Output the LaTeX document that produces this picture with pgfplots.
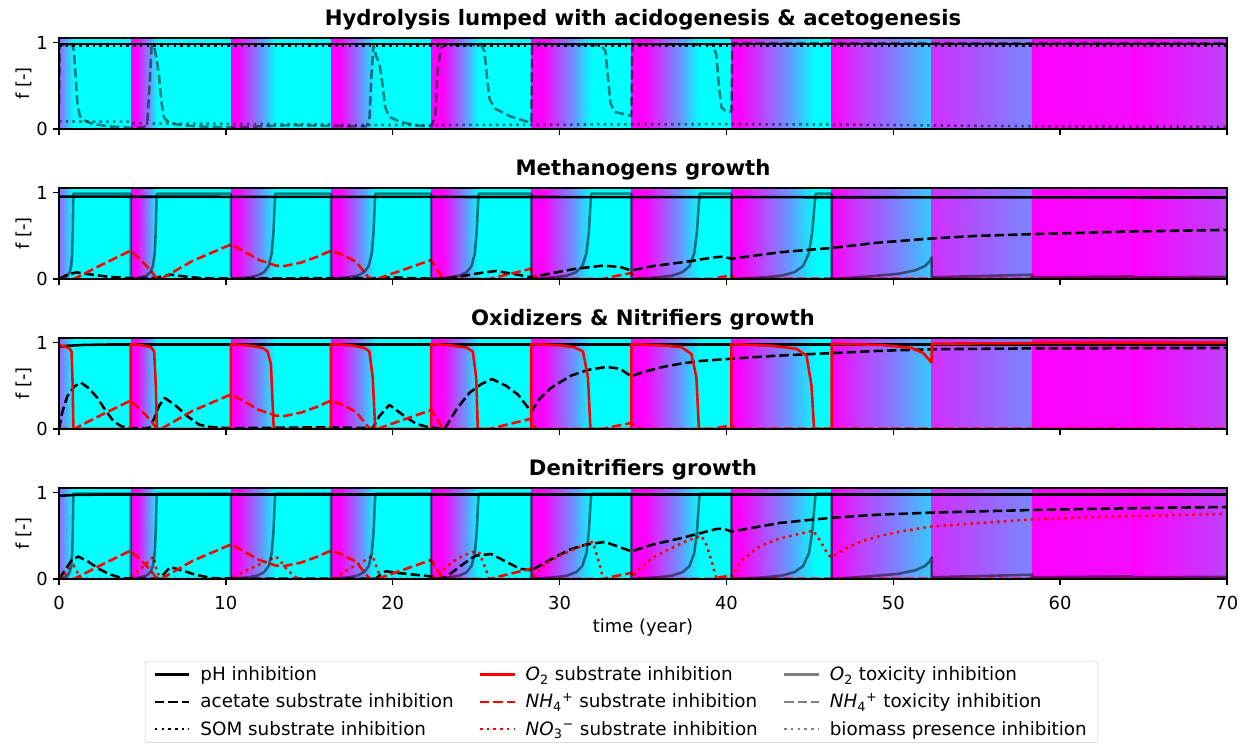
\documentclass[border=0pt]{standalone}
\usepackage{fontspec}
\setmainfont{DejaVu Sans}
\usepackage{pgfplots}
\pgfplotsset{compat=1.18}
\usepackage{pgfplotstable}
\definecolor{mg}{rgb}{1,0,1}
\definecolor{cy}{rgb}{0,1,1}

\tikzset{
 ph/.style={black, line width=1.85pt, line join=round},
 acet/.style={black, line width=1.85pt, dash pattern=on 6.8pt off 2.9pt, line join=round},
 som/.style={black, line width=1.85pt, dash pattern=on 1.85pt off 3.0pt},
 osub/.style={red, line width=1.85pt, line join=round},
 nsub/.style={red, line width=1.85pt, dash pattern=on 6.8pt off 2.9pt, line join=round},
 nosub/.style={red, line width=1.85pt, dash pattern=on 1.85pt off 3.0pt},
 otox/.style={black, draw opacity=0.5, line width=1.85pt, line join=round},
 ntox/.style={black, draw opacity=0.5, line width=1.85pt, dash pattern=on 6.8pt off 2.9pt, line join=round},
 bio/.style={black, draw opacity=0.5, line width=1.85pt, dash pattern=on 1.85pt off 3.0pt},
}

\newcommand\shb[4]{\fill[left color=mg!#3!cy, right color=mg!#4!cy, draw=none] (axis cs:#1,0) rectangle (axis cs:#2,1.055);}
\newcommand\sol[3]{\fill[mg!#3!cy] (axis cs:#1,0) rectangle (axis cs:#2,1.055);}
\newcommand\bgbands{%
\fill[cy] (axis cs:0,0) rectangle (axis cs:70,1.055);
\shb{0}{0.5}{60}{25}\shb{0.5}{0.86}{25}{0}%
\sol{4.3}{4.65}{100}\shb{4.65}{5.44}{100}{40}\shb{5.44}{5.86}{40}{0}%
\sol{10.3}{10.65}{100}\shb{10.65}{12.15}{100}{40}\shb{12.15}{12.96}{40}{0}%
\sol{16.3}{16.8}{100}\shb{16.8}{18.2}{100}{40}\shb{18.2}{18.96}{40}{0}%
\sol{22.3}{23.0}{100}\shb{23.0}{24.4}{100}{40}\shb{24.4}{25.15}{40}{0}%
\sol{28.3}{29.0}{100}\shb{29.0}{30.89}{100}{40}\shb{30.89}{31.9}{40}{0}%
\sol{34.3}{35.1}{100}\shb{35.1}{37.25}{100}{40}\shb{37.25}{38.4}{40}{0}%
\sol{40.3}{40.8}{100}\shb{40.8}{43.76}{100}{40}\shb{43.76}{45.35}{40}{0}%
\shb{46.3}{48.0}{100}{75}\shb{48.0}{50.4}{75}{47}\shb{50.4}{52.3}{47}{20}%
\shb{52.3}{58.3}{82}{47}%
\shb{58.3}{64.3}{100}{95}%
\shb{64.3}{70}{100}{74}%
}

% O2 toxicity (panels 2 and 4)
\pgfplotstableread[row sep=\\]{
x y\\
0 0\\ 0.344 0.02\\ 0.516 0.04\\ 0.645 0.08\\ 0.731 0.15\\ 0.791 0.3\\ 0.826 0.55\\ 0.847 0.85\\ 0.86 0.99\\ 4.3 0.99\\
4.3 0\\ 4.924 0.02\\ 5.236 0.04\\ 5.47 0.08\\ 5.626 0.15\\ 5.735 0.3\\ 5.798 0.55\\ 5.837 0.85\\ 5.86 0.99\\ 10.3 0.99\\
10.3 0\\ 11.364 0.02\\ 11.896 0.04\\ 12.295 0.08\\ 12.561 0.15\\ 12.747 0.3\\ 12.854 0.55\\ 12.92 0.85\\ 12.96 0.99\\ 16.3 0.99\\
16.3 0\\ 17.364 0.02\\ 17.896 0.04\\ 18.295 0.08\\ 18.561 0.15\\ 18.747 0.3\\ 18.854 0.55\\ 18.92 0.85\\ 18.96 0.99\\ 22.3 0.99\\
22.3 0\\ 23.44 0.02\\ 24.01 0.04\\ 24.4375 0.08\\ 24.7225 0.15\\ 24.922 0.3\\ 25.036 0.55\\ 25.107 0.85\\ 25.15 0.99\\ 28.3 0.99\\
28.3 0\\ 29.74 0.02\\ 30.46 0.04\\ 31.0 0.08\\ 31.36 0.15\\ 31.612 0.3\\ 31.756 0.55\\ 31.846 0.85\\ 31.9 0.99\\ 34.3 0.99\\
34.3 0\\ 35.94 0.02\\ 36.76 0.04\\ 37.375 0.08\\ 37.785 0.15\\ 38.072 0.3\\ 38.236 0.55\\ 38.3385 0.85\\ 38.4 0.99\\ 40.3 0.99\\
40.3 0\\ 42.32 0.02\\ 43.33 0.04\\ 44.0875 0.08\\ 44.5925 0.15\\ 44.946 0.3\\ 45.148 0.55\\ 45.274 0.85\\ 45.35 0.99\\ 46.3 0.99\\
46.3 0\\ 48.5 0.03\\ 50.3 0.06\\ 51.3 0.1\\ 51.9 0.15\\ 52.2 0.21\\ 52.3 0.25\\ 52.3 0.02\\ 58.3 0.05\\ 58.3 0.02\\ 64.3 0.03\\ 64.3 0.02\\ 70 0.025\\
}\Gtab

% NH4+ substrate (panels 2,3,4)
\pgfplotstableread[row sep=\\]{
x y\\
0 0\\ 0.9 0\\ 1.0 0.01\\ 2.5 0.16\\ 4.3 0.33\\ 4.5 0.29\\ 5.0 0.2\\ 5.5 0.1\\ 5.8 0.02\\ 6.1 0\\ 6.2 0.01\\ 8 0.21\\ 10.3 0.4\\
11 0.33\\ 12 0.22\\ 13 0.155\\ 13.5 0.15\\ 14.5 0.19\\ 15.5 0.26\\ 16.3 0.33\\ 17 0.28\\ 17.8 0.2\\ 18.5 0.03\\ 18.7 0\\ 19.1 0\\
19.2 0.01\\ 22.3 0.22\\ 22.7 0.1\\ 23.0 0\\ 25.8 0\\ 26 0.01\\ 28.3 0.12\\ 28.5 0.02\\ 28.7 0\\ 32.6 0\\ 33 0.02\\ 34.3 0.07\\
34.6 0.02\\ 35 0\\ 39.3 0\\ 39.6 0.02\\ 40.3 0.04\\ 40.5 0.005\\ 70 0.005\\
}\Ntab

% Panel 1
\pgfplotstableread[row sep=\\]{
x y\\
0 0.3\\ 0.05 0.97\\ 0.8 0.98\\ 0.9 0.9\\ 1.0 0.6\\ 1.1 0.3\\ 1.25 0.15\\ 1.5 0.1\\ 2 0.06\\ 3 0.03\\ 4.3 0.015\\
5.1 0.02\\ 5.3 0.1\\ 5.45 0.6\\ 5.55 0.97\\ 5.7 0.95\\ 5.85 0.82\\ 6.0 0.6\\ 6.15 0.3\\ 6.3 0.13\\ 6.6 0.07\\ 7.5 0.04\\ 9 0.025\\
10.3 0.02\\ 12 0.03\\ 14 0.045\\ 16.3 0.035\\ 18.4 0.03\\ 18.6 0.1\\ 18.72 0.6\\ 18.85 0.97\\ 19.0 0.85\\ 19.2 0.76\\ 19.4 0.5\\
19.55 0.25\\ 19.8 0.14\\ 20.5 0.08\\ 21.5 0.04\\ 22.3 0.03\\ 22.55 0.15\\ 22.7 0.7\\ 22.9 0.95\\ 23.3 0.98\\ 25.3 0.97\\ 25.5 0.9\\
25.65 0.6\\ 25.8 0.35\\ 26.1 0.24\\ 27 0.15\\ 28.3 0.07\\ 28.35 0.97\\ 28.6 0.99\\ 32.5 0.97\\ 32.75 0.9\\ 32.9 0.6\\ 33.05 0.3\\
33.3 0.2\\ 34.3 0.15\\ 34.35 0.98\\ 39.2 0.98\\ 39.4 0.85\\ 39.55 0.5\\ 39.7 0.25\\ 40.0 0.2\\ 40.3 0.2\\ 40.35 0.995\\ 70 0.995\\
}\NToxA
\pgfplotstableread[row sep=\\]{
x y\\
0 0.088\\ 4.3 0.085\\ 4.4 0.065\\ 10.3 0.06\\ 16.3 0.055\\ 16.4 0.047\\ 22.3 0.046\\ 28.3 0.05\\ 34.3 0.055\\ 40.3 0.056\\ 46.3 0.052\\ 52.3 0.042\\ 58.3 0.032\\ 70 0.025\\
}\BioA

% Panel 2 acetate
\pgfplotstableread[row sep=\\]{
x y\\
0 0\\ 0.5 0.05\\ 1.05 0.077\\ 2 0.05\\ 3 0.025\\ 4.3 0.01\\ 5.5 0.01\\ 5.9 0.02\\ 6.7 0.05\\ 7.5 0.03\\ 8.5 0.01\\ 10.3 0.005\\
16.3 0.01\\ 19 0.01\\ 20 0.02\\ 21 0.01\\ 22.3 0.005\\ 22.85 0\\ 24.05 0.03\\ 25.25 0.07\\ 26.2 0.093\\ 27.2 0.06\\ 28.3 0.02\\
29.6 0.07\\ 31.0 0.12\\ 32.6 0.155\\ 33.6 0.14\\ 34.3 0.1\\ 35.6 0.15\\ 37.6 0.2\\ 39.2 0.25\\ 39.8 0.26\\ 40.3 0.235\\ 43.2 0.31\\
46.3 0.36\\ 49 0.42\\ 52.3 0.47\\ 55 0.5\\ 58.3 0.52\\ 64 0.55\\ 70 0.57\\
}\AcB

% Panel 3
\pgfplotstableread[row sep=\\]{
x y\\
0 0\\ 0.2 0.2\\ 0.5 0.38\\ 0.9 0.49\\ 1.3 0.54\\ 1.8 0.47\\ 2.3 0.36\\ 2.77 0.22\\ 3.26 0.09\\ 3.75 0.03\\ 4.3 0.01\\
5.4 0.01\\ 5.7 0.12\\ 6.0 0.27\\ 6.33 0.36\\ 6.94 0.28\\ 7.68 0.15\\ 8.4 0.05\\ 9.15 0.02\\ 10.3 0.01\\ 16.3 0.02\\ 18.8 0.01\\
19.2 0.15\\ 19.8 0.28\\ 20.7 0.15\\ 21.4 0.06\\ 22.15 0.02\\ 23.1 0\\ 23.9 0.25\\ 24.6 0.42\\ 25.3 0.52\\ 25.95 0.58\\ 26.8 0.5\\
27.5 0.4\\ 28.3 0.2\\ 28.8 0.35\\ 29.5 0.48\\ 30.7 0.62\\ 31.7 0.685\\ 32.8 0.72\\ 33.6 0.7\\ 34.3 0.61\\ 35 0.66\\ 36.2 0.72\\
37.3 0.76\\ 38.5 0.79\\ 40.3 0.815\\ 43 0.85\\ 46.3 0.88\\ 49 0.905\\ 52.3 0.925\\ 58.3 0.935\\ 70 0.94\\
}\AcC
\pgfplotstableread[row sep=\\]{
x y\\
0 0.97\\ 0.3 0.96\\ 0.6 0.94\\ 0.75 0.9\\ 0.82 0.5\\ 0.86 0\\ 4.3 0\\
4.3 0.985\\ 5.0 0.97\\ 5.5 0.95\\ 5.7 0.9\\ 5.8 0.5\\ 5.87 0\\ 10.3 0\\
10.3 0.985\\ 11.5 0.965\\ 12.2 0.94\\ 12.5 0.9\\ 12.7 0.75\\ 12.8 0.3\\ 12.87 0\\ 16.3 0\\
16.3 0.985\\ 17.5 0.97\\ 18.3 0.94\\ 18.6 0.9\\ 18.8 0.6\\ 18.95 0\\ 22.3 0\\
22.3 0.985\\ 23.5 0.97\\ 24.4 0.945\\ 24.8 0.9\\ 25.0 0.6\\ 25.1 0\\ 28.3 0\\
28.3 0.985\\ 30 0.97\\ 30.85 0.95\\ 31.4 0.9\\ 31.7 0.6\\ 31.85 0\\ 34.3 0\\
34.3 0.985\\ 36 0.97\\ 37.3 0.95\\ 37.9 0.87\\ 38.2 0.6\\ 38.35 0\\ 40.3 0\\
40.3 0.985\\ 42.7 0.965\\ 44.2 0.93\\ 44.8 0.85\\ 45.1 0.5\\ 45.25 0\\ 46.3 0\\
46.3 0.99\\ 49.3 0.975\\ 51.1 0.94\\ 51.8 0.88\\ 52.3 0.77\\ 52.3 0.99\\ 58.3 0.995\\ 58.3 1.0\\ 70 1.0\\
}\OsC

% Panel 4
\pgfplotstableread[row sep=\\]{
x y\\
0 0\\ 0.36 0.1\\ 0.76 0.22\\ 1.16 0.26\\ 1.76 0.2\\ 2.36 0.12\\ 2.96 0.06\\ 3.76 0.01\\ 4.3 0.005\\ 6.0 0.005\\ 6.16 0.03\\
6.66 0.14\\ 7.36 0.1\\ 8.16 0.05\\ 9.16 0.01\\ 10.3 0.005\\ 19.0 0.005\\ 19.3 0.06\\ 19.6 0.09\\ 20.3 0.07\\ 21.3 0.05\\ 22.3 0.03\\
22.85 0\\ 23.25 0.03\\ 24.05 0.15\\ 24.95 0.27\\ 25.9 0.29\\ 26.8 0.2\\ 27.6 0.12\\ 28.3 0.1\\ 29.6 0.24\\ 30.6 0.34\\ 31.6 0.4\\
32.7 0.43\\ 33.6 0.37\\ 34.3 0.32\\ 35.6 0.4\\ 37.2 0.47\\ 38.4 0.53\\ 39.4 0.58\\ 39.8 0.585\\ 40.3 0.55\\ 43.2 0.65\\ 46.3 0.71\\
49 0.745\\ 52.3 0.77\\ 58.3 0.8\\ 64 0.82\\ 70 0.835\\
}\AcD
\pgfplotstableread[row sep=\\]{
x y\\
0 0\\ 0.36 0.05\\ 0.56 0.12\\ 0.86 0.16\\ 1.0 0.12\\ 1.16 0.05\\ 1.36 0\\ 4.3 0\\ 4.46 0.05\\ 4.96 0.13\\ 5.36 0.2\\ 5.66 0.26\\
5.86 0.1\\ 6.06 0\\ 10.3 0\\ 11.0 0.08\\ 11.8 0.15\\ 12.4 0.2\\ 13.0 0.26\\ 13.3 0.2\\ 13.7 0.1\\ 14.2 0.02\\ 14.4 0\\ 16.3 0\\
16.6 0.02\\ 17.4 0.12\\ 18.2 0.2\\ 18.8 0.27\\ 19.1 0.1\\ 19.3 0\\ 22.3 0\\ 23.0 0.1\\ 23.6 0.2\\ 24.2 0.27\\ 24.9 0.32\\ 25.2 0.3\\
25.5 0.15\\ 25.8 0\\ 28.3 0\\ 28.4 0.03\\ 29.2 0.18\\ 30.0 0.27\\ 30.8 0.34\\ 31.8 0.42\\ 32.0 0.43\\ 32.2 0.3\\ 32.5 0.1\\ 32.6 0\\
34.3 0\\ 34.4 0.03\\ 34.8 0.12\\ 35.6 0.25\\ 36.6 0.35\\ 37.6 0.44\\ 38.5 0.5\\ 38.8 0.4\\ 39.2 0.15\\ 39.4 0\\ 40.3 0\\ 40.8 0.2\\
42.0 0.38\\ 43.2 0.47\\ 44.5 0.53\\ 45.2 0.56\\ 45.6 0.45\\ 46.1 0.28\\ 46.3 0.25\\ 47.1 0.35\\ 48.0 0.43\\ 49.2 0.5\\ 50.4 0.55\\
52.3 0.61\\ 55.2 0.65\\ 58.3 0.69\\ 62.4 0.72\\ 70 0.755\\
}\NoD

\pgfplotsset{
 panel/.style={
  scale only axis, width=841pt, height=65.5pt,
  xmin=0, xmax=70, ymin=0, ymax=1.055,
  xtick={0,10,...,70}, ytick={0,1},
  tick align=outside, xtick pos=bottom, ytick pos=left,
  major tick length=4.5pt,
  axis on top,
  axis line style={line width=1pt},
  every tick/.style={black, line width=1pt},
  tick label style={font=\fontsize{12.9}{15}\selectfont},
  xticklabel style={yshift=-4pt},
  /pgf/number format/assume math mode=true,
  ylabel={f [-]},
  label style={font=\fontsize{12.9}{15}\selectfont},
  ylabel style={at={(rel axis cs:-0.03,0.5)}, anchor=center},
  title style={font=\fontsize{15.3}{18}\selectfont\bfseries, yshift=-4pt},
 },
}

\begin{document}
\begin{tikzpicture}
\path[use as bounding box] (-42.5pt,-447.8pt) rectangle (855.4pt,92.9pt);

% Panel 1
\begin{axis}[panel, at={(0pt,0pt)}, xticklabels={},
  title={Hydrolysis lumped with acidogenesis \& acetogenesis}]
\bgbands
\addplot[ph] coordinates {(0,0.985) (70,0.985)};
\addplot[som] coordinates {(0,0.965) (70,0.965)};
\addplot[ntox] table {\NToxA};
\addplot[bio] table {\BioA};
\end{axis}

% Panel 2
\begin{axis}[panel, at={(0pt,-108pt)}, xticklabels={}, title={Methanogens growth}]
\bgbands
\addplot[ph] coordinates {(0,0.955) (70,0.945)};
\addplot[acet] table {\AcB};
\addplot[nsub] table {\Ntab};
\addplot[otox] table {\Gtab};
\end{axis}

% Panel 3
\begin{axis}[panel, at={(0pt,-216pt)}, xticklabels={}, title={Oxidizers \& Nitrifiers growth}]
\bgbands
\addplot[ph] coordinates {(0,0.955) (0.5,0.965) (1.5,0.975) (3,0.98) (70,0.98)};
\addplot[acet] table {\AcC};
\addplot[osub] table {\OsC};
\addplot[nsub] table {\Ntab};
\end{axis}

% Panel 4
\begin{axis}[panel, at={(0pt,-324pt)}, title={Denitrifiers growth},
  xlabel={time (year)},
  legend columns=3,
  legend image code/.code={\draw[#1, line cap=butt] (0pt,0pt) -- (25pt,0pt);},
  legend style={at={(0.4816,-0.9)}, anchor=north, draw=black!20, rounded corners=2pt,
    font=\fontsize{13.2}{15}\selectfont, cells={anchor=west},
    /tikz/every odd column/.append style={column sep=5pt},
    /tikz/every even column/.append style={column sep=16pt},
    /tikz/column 4/.append style={column sep=22pt},
    row sep=4pt, inner xsep=6pt, inner ysep=2pt}]
\addlegendimage{ph}\addlegendentry{pH inhibition}
\addlegendimage{osub}\addlegendentry{\textit{O}\textsubscript{2} substrate inhibition}
\addlegendimage{otox}\addlegendentry{\textit{O}\textsubscript{2} toxicity inhibition}
\addlegendimage{acet}\addlegendentry{acetate substrate inhibition}
\addlegendimage{nsub}\addlegendentry{\textit{NH}\textsubscript{4}\textsuperscript{\textit{+}} substrate inhibition}
\addlegendimage{ntox}\addlegendentry{\textit{NH}\textsubscript{4}\textsuperscript{\textit{+}} toxicity inhibition}
\addlegendimage{som}\addlegendentry{SOM substrate inhibition}
\addlegendimage{nosub}\addlegendentry{\textit{NO}\textsubscript{3}\textsuperscript{−} substrate inhibition}
\addlegendimage{bio}\addlegendentry{biomass presence inhibition}
\bgbands
\addplot[ph] coordinates {(0,0.965) (1,0.975) (3,0.98) (70,0.98)};
\addplot[acet] table {\AcD};
\addplot[osub] coordinates {(0,0) (70,0)};
\addplot[nsub] table {\Ntab};
\addplot[nosub] table {\NoD};
\addplot[otox] table {\Gtab};
\end{axis}
\end{tikzpicture}
\end{document}
